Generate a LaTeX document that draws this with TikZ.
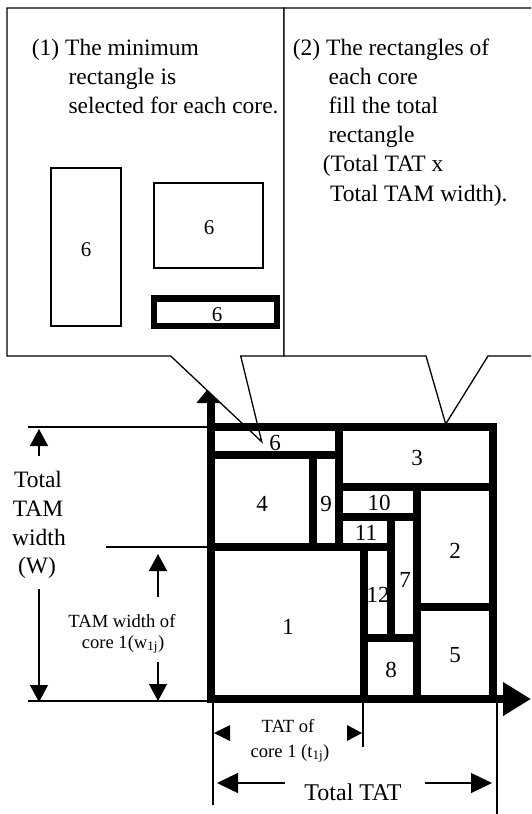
\documentclass[tikz,border=0pt]{standalone}
\usepackage{fontspec}
\setmainfont{Liberation Serif}
\usetikzlibrary{arrows.meta}
\begin{document}
\begin{tikzpicture}[x=1pt,y=-1pt,
  thinline/.style={line width=1.3pt},
  gridline/.style={line width=7.5pt},
  big/.style={font=\fontsize{23.5}{28}\selectfont, inner sep=0pt},
  small/.style={font=\fontsize{18.6}{24}\selectfont, inner sep=0pt},
  num/.style={font=\fontsize{23}{27}\selectfont, inner sep=0pt},
  cnum/.style={font=\fontsize{21}{25}\selectfont, inner sep=0pt},
  dimarrow/.style={thinline,-{Triangle[length=17pt,width=18pt]}},
]
\useasboundingbox (0,0) rectangle (531,814);

% vertical axis (drawn first so the callout pointer covers part of its head)
\coordinate (vbot) at (211,703);
\coordinate (vtop) at (211,385);
\draw[gridline,-{Triangle[length=18pt,width=28pt]}] (vbot) -- (vtop);

% callouts
\filldraw[fill=white,thinline] (7,8) -- (284,8) -- (284,356) -- (240.7,356)
  -- (261.7,441.7) -- (170.7,356) -- (7,356) -- cycle;
\filldraw[fill=white,thinline] (531,356) -- (488,356) -- (445.7,424) -- (426,356)
  -- (284,356) -- (284,8) -- (531,8);

% callout (1) text
\node[big,anchor=base west] (t1a) at (31.7,55) {(1) The minimum};
\node[big,anchor=base west] (t1b) at (68.3,84.2) {rectangle is};
\node[big,anchor=base west] (t1c) at (68.3,113.4) {selected for each core.};
% callout (2) text
\node[big,anchor=base west] (t2a) at (292.7,55) {(2) The rectangles of};
\node[big,anchor=base west] (t2b) at (328.3,84.2) {each core};
\node[big,anchor=base west] (t2c) at (328.3,113.4) {fill the total};
\node[big,anchor=base west] (t2d) at (328.3,142.6) {rectangle};
\node[big,anchor=base west] (t2e) at (322.7,171.8) {(Total TAT x};
\node[big,anchor=base west] (t2f) at (330,201) {Total TAM width).};

% candidate rectangles of core 6
\draw[thinline] (51,168) rectangle (121,326);
\node[cnum] (ra) at (86,250) {6};
\draw[thinline] (154,183) rectangle (263,268);
\node[cnum] (rb) at (209,228) {6};
\draw[line width=6.2pt] (154,298.5) rectangle (277.2,326);
\node[cnum] (rc) at (217,315) {6};

% packed rectangles
\foreach \xa/\ya/\xb/\yb in {211/427/339/455, 339/427/493/487, 211/455/313/547,
  313/455/339/547, 339/487/417/517, 339/517/391/547, 417/487/493/607,
  391/517/417/638, 364/547/391/638, 211/547/364/699, 364/638/417/699,
  417/607/493/699}
  \draw[gridline] (\xa,\ya) rectangle (\xb,\yb);
\node[num] (c6) at (275,443) {6};
\node[num] (c3) at (417,458) {3};
\node[num] (c4) at (262,504) {4};
\node[num] (c9) at (326,504) {9};
\node[num] (c10) at (379,503) {10};
\node[num] (c11) at (366,533) {11};
\node[num] (c2) at (455,551) {2};
\node[num] (c7) at (405,580) {7};
\node[num] (c12) at (378,595) {12};
\node[num] (c1) at (288,627) {1};
\node[num] (c8) at (391,670) {8};
\node[num] (c5) at (455,655) {5};

% horizontal axis
\coordinate (hleft) at (207,699);
\coordinate (hright) at (531,699);
\draw[gridline,-{Triangle[length=28pt,width=32pt]}] (hleft) -- (hright);

% extension lines
\coordinate (eTa) at (28,427);   \coordinate (eTb) at (211,427);
\coordinate (eMa) at (106,547);  \coordinate (eMb) at (211,547);
\coordinate (eBa) at (28,701);   \coordinate (eBb) at (211,701);
\coordinate (eLa) at (213,702);  \coordinate (eLb) at (213,805);
\coordinate (eCa) at (363,702);  \coordinate (eCb) at (363,747);
\coordinate (eRa) at (497,703);  \coordinate (eRb) at (497,814);
\draw[thinline] (eTa) -- (eTb);
\draw[thinline] (eMa) -- (eMb);
\draw[thinline] (eBa) -- (eBb);
\draw[thinline] (eLa) -- (eLb);
\draw[thinline] (eCa) -- (eCb);
\draw[thinline] (eRa) -- (eRb);

% Total TAM width
\coordinate (w1s) at (39,456); \coordinate (w1e) at (39,429);
\coordinate (w2s) at (39,589); \coordinate (w2e) at (39,702);
\draw[dimarrow] (w1s) -- (w1e);
\draw[dimarrow] (w2s) -- (w2e);
\node[big,anchor=base] (lw1) at (38,487) {Total};
\node[big,anchor=base] (lw2) at (38,516) {TAM};
\node[big,anchor=base] (lw3) at (39,545) {width};
\node[big,anchor=base] (lw4) at (37,573) {(W)};

% TAM width of core 1
\coordinate (m1s) at (158,597); \coordinate (m1e) at (158,554);
\coordinate (m2s) at (158,662); \coordinate (m2e) at (158,701);
\draw[dimarrow] (m1s) -- (m1e);
\draw[dimarrow] (m2s) -- (m2e);
\node[small,anchor=base] (lm1) at (122,627) {TAM width of};
\node[small,anchor=base] (lm2) at (123,648) {core 1(w\textsubscript{1j})};

% TAT of core 1
\fill (214,733) -- (230,725) -- (230,741) -- cycle;
\fill (362,733) -- (347,725) -- (347,741) -- cycle;
\node[small,anchor=base] (lt1) at (288,732) {TAT of};
\node[small,anchor=base] (lt2) at (290,757) {core 1 (t\textsubscript{1j})};

% Total TAT
\coordinate (T1s) at (285,783); \coordinate (T1e) at (217,783);
\coordinate (T2s) at (425,783); \coordinate (T2e) at (492,783);
\draw[thinline,-{Triangle[length=21pt,width=20pt]}] (T1s) -- (T1e);
\draw[thinline,-{Triangle[length=21pt,width=20pt]}] (T2s) -- (T2e);
\node[font=\fontsize{24}{28}\selectfont,inner sep=0pt,anchor=base] (ltt) at (353,800) {Total TAT};
\end{tikzpicture}
\end{document}
